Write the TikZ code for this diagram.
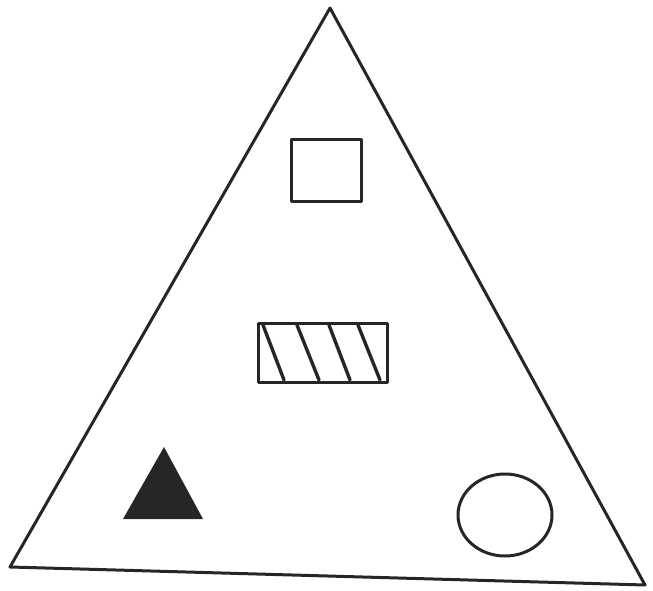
\documentclass[tikz,border=0pt]{standalone}
\usepackage{tikz}
\begin{document}
\begin{tikzpicture}[x=1pt,y=-1pt,
  pen/.style={draw=black!85,line width=3pt,line join=round,line cap=round},
  hatch/.style={draw=black!85,line width=3.4pt,line cap=round}]
  \useasboundingbox (0,0) rectangle (653,591);
  % outer triangle
  \draw[pen] (330,8) -- (645,585) -- (10,567) -- cycle;
  % square
  \draw[pen] (291,140) rectangle (361,201);
  % hatched rectangle
  \draw[pen] (258,323) rectangle (387,382);
  \foreach \xa/\xb in {263/284,297/319,329/350,358/380}
    \draw[hatch] (\xa,325) -- (\xb,380);
  % filled triangle
  \fill[black!85] (164,447) -- (203,519) -- (123,519) -- cycle;
  % circle
  \draw[pen] (505,515) ellipse [x radius=47,y radius=41];
\end{tikzpicture}
\end{document}
